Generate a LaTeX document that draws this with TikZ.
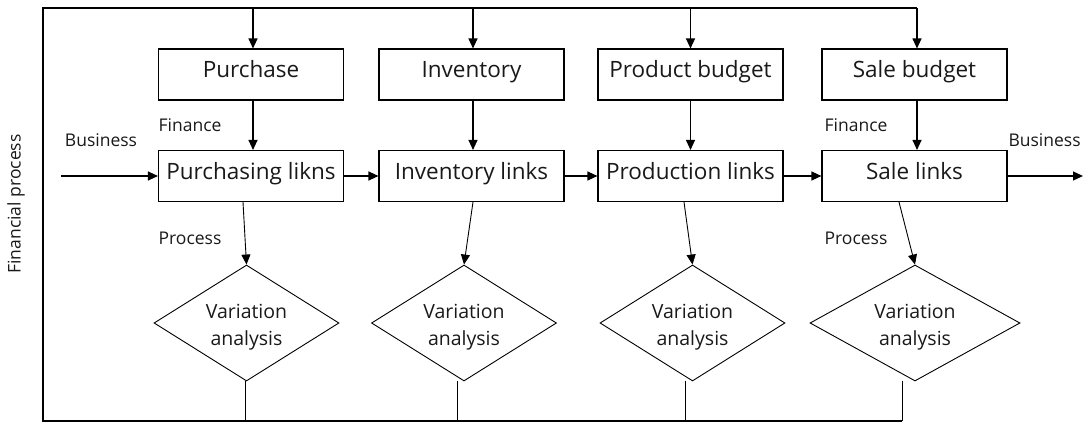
\documentclass[tikz,border=0pt]{standalone}
\usepackage{fontspec}
\setmainfont{Open Sans}
\usetikzlibrary{arrows.meta,shapes.geometric}
\begin{document}
\begin{tikzpicture}[x=1pt,y=-1pt,
  line width=1.1pt,
  box/.style={draw, line width=1.1pt, minimum width=185pt, minimum height=51pt, inner sep=0pt, font=\fontsize{22.5}{26}\selectfont, text height=0.84em, text depth=0.16em, text=black!90},
  dia/.style={draw, diamond, line width=0.9pt, aspect=1.6, minimum width=185pt, minimum height=116pt, inner sep=0pt},
  dtxt/.style={font=\fontsize{19.5}{27}\selectfont, text=black!90, align=center, inner sep=0pt},
  lbl/.style={font=\fontsize{17.5}{20}\selectfont, text=black!90, inner sep=0pt},
  arr/.style={-{Triangle[length=10pt,width=9pt]}}]
\useasboundingbox (0,0) rectangle (1084,423);
% top row
\node[box] (pb) at (251,74.5) {Purchase};
\node[box] (ib) at (471.5,74.5) {Inventory};
\node[box] (rb) at (690.5,74.5) {Product budget};
\node[box] (sb) at (914.5,74.5) {Sale budget};
% second row
\node[box] (pl) at (251,176) {Purchasing likns};
\node[box] (il) at (471.5,176) {Inventory links};
\node[box] (rl) at (690.5,176) {Production links};
\node[box] (sl) at (914.5,176) {Sale links};
% diamonds
\node[dia] (d1) at (246.5,323) {};
\node[dia] (d2) at (464,323) {};
\node[dia] (d3) at (692.5,323) {};
\node[dia, minimum width=210pt] (d4) at (915,323) {};
\node[dtxt] (t1) at ([yshift=-4pt]d1.center) {Variation\\analysis};
\node[dtxt] (t2) at ([yshift=-4pt]d2.center) {Variation\\analysis};
\node[dtxt] (t3) at ([yshift=-4pt]d3.center) {Variation\\analysis};
\node[dtxt] (t4) at ([yshift=-4pt]d4.center) {Variation\\analysis};
% frame
\coordinate (tl) at (43,8);
\coordinate (bl) at (43,421);
\coordinate (tr) at (917,8);
\coordinate (br) at (902,421);
\draw (tr) -- (tl) -- (bl) -- (br);
\draw[line width=0.9pt] ([xshift=-1pt]d1.south) -- ([xshift=-1pt]d1.south |- bl);
\draw[line width=0.9pt] ([xshift=-7pt]d2.south) -- ([xshift=-7pt]d2.south |- bl);
\draw[line width=0.9pt] ([xshift=-7pt]d3.south) -- ([xshift=-7pt]d3.south |- bl);
\draw[line width=0.9pt] ([xshift=-13pt]d4.south) -- (br);
% arrows from top frame
\draw[arr] ([xshift=2pt]pb.north |- tl) -- ([xshift=2pt]pb.north);
\draw[arr] ([xshift=1.5pt]ib.north |- tl) -- ([xshift=1.5pt]ib.north);
\draw[arr] (rb.north |- tl) -- (rb.north);
\draw[arr] (tr) -- ([xshift=2.5pt]sb.north);
% top to second row
\draw[arr] ([xshift=2pt]pb.south) -- ([xshift=2pt]pl.north);
\draw[arr] ([xshift=1.5pt]ib.south) -- ([xshift=1.5pt]il.north);
\draw[arr] (rb.south) -- (rl.north);
\draw[arr] ([xshift=2.5pt]sb.south) -- ([xshift=2.5pt]sl.north);
% horizontal chain
\coordinate (in) at (61,176);
\coordinate (out) at (1083,176);
\draw[arr] (in) -- (pl.west);
\draw[arr] (pl) -- (il);
\draw[arr] (il) -- (rl);
\draw[arr] (rl) -- (sl);
\draw[arr] (sl.east) -- (out);
% second row to diamonds
\draw[arr, line width=0.9pt] ([xshift=-8pt]pl.south) -- (d1.north);
\draw[arr, line width=0.9pt] ([xshift=1.5pt]il.south) -- (d2.north);
\draw[arr, line width=0.9pt] ([xshift=-6.5pt]rl.south) -- (d3.north);
\draw[arr, line width=0.9pt] ([xshift=-15.5pt]sl.south) -- (d4.north);
% labels
\node[lbl] (lb1) at (101,140) {Business};
\node[lbl] (lf1) at (190,125) {Finance};
\node[lbl] (lp1) at (190,238) {Process};
\node[lbl] (lf2) at (856,125) {Finance};
\node[lbl, anchor=west] (lb2) at (1008,140) {Business};
\node[lbl] (lp2) at (856,238) {Process};
\node[lbl, rotate=90, font=\fontsize{17.5}{20}\selectfont] (fp) at (16,204) {Financial process};
\end{tikzpicture}
\end{document}
